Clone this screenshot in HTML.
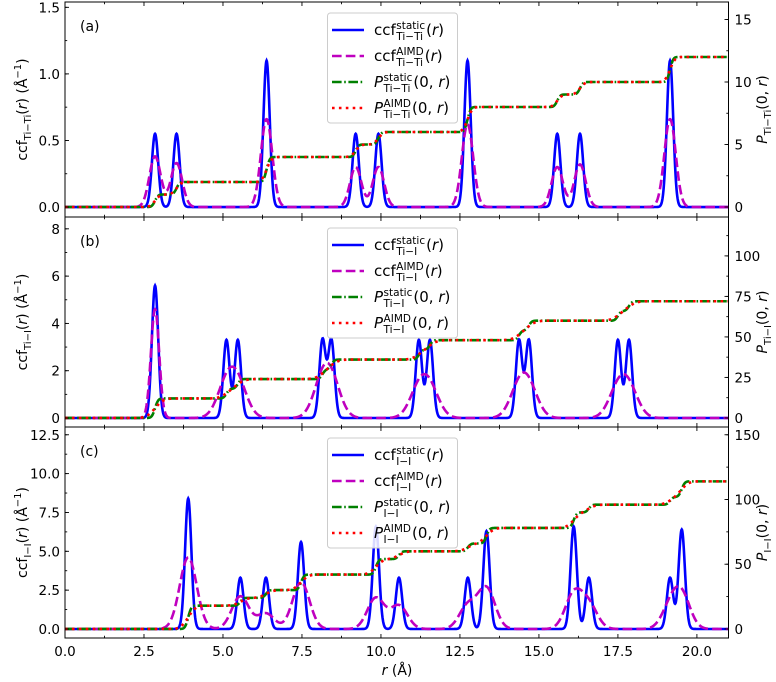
<!DOCTYPE html>
<html><head><meta charset="utf-8"><style>
html,body{margin:0;padding:0;background:#fff}
svg{display:block;font-family:"DejaVu Sans","Liberation Sans",sans-serif}
</style></head><body>
<svg id="chart" width="776" height="682" viewBox="0 0 776 682"></svg>
<script>
// ---------- data ----------
const xTicks = [0, 2.5, 5, 7.5, 10, 12.5, 15, 17.5, 20];
const xTickLabels = ["0.0","2.5","5.0","7.5","10.0","12.5","15.0","17.5","20.0"];

const aPeakPos = [2.85, 3.53, 6.38, 9.2, 9.92, 12.74, 15.58, 16.3, 19.15];
const aStaticH = [0.55, 0.55, 1.1, 0.55, 0.55, 1.1, 0.55, 0.55, 1.1];
const aAimdH   = [0.38, 0.33, 0.66, 0.30, 0.30, 0.62, 0.30, 0.32, 0.66];
const aPLevels = [1, 2, 4, 5, 6, 8, 9, 10, 12];
const aLeftTicks = [0, 0.5, 1.0, 1.5];
const aLeftLabels = ["0.0","0.5","1.0","1.5"];
const aRightTicks = [0, 5, 10, 15];

const bPeakPos = [2.85, 5.11, 5.47, 8.15, 8.43, 11.2, 11.55, 14.37, 14.68, 17.5, 17.85];
const bStaticH = [5.6, 3.3, 3.3, 3.3, 3.3, 3.3, 3.3, 3.3, 3.3, 3.3, 3.3];
const bAimdH   = [4.6, 1.3, 1.3, 1.3, 1.3, 1.1, 1.1, 1.1, 1.1, 1.1, 1.1];
const bPLevels = [12, 18, 24, 30, 36, 42, 48, 54, 60, 66, 72];
const bLeftTicks = [0, 2, 4, 6, 8];
const bLeftLabels = ["0","2","4","6","8"];
const bRightTicks = [0, 25, 50, 75, 100];

const cPeakPos = [3.9, 5.55, 6.36, 7.47, 9.84, 10.57, 12.75, 13.34, 16.1, 16.58, 19.15, 19.52];
const cStaticH = [8.4, 3.3, 3.3, 5.6, 6.6, 3.3, 3.3, 6.3, 6.6, 3.3, 3.3, 6.4];
const cAimdH   = [4.6, 2.1, 1.0, 3.0, 2.0, 1.5, 1.5, 2.6, 2.2, 1.5, 1.3, 2.1];
const cPLevels = [18, 24, 30, 42, 54, 60, 66, 78, 90, 96, 102, 114];
const cLeftTicks = [0, 2.5, 5, 7.5, 10, 12.5];
const cLeftLabels = ["0.0","2.5","5.0","7.5","10.0","12.5"];
const cRightTicks = [0, 50, 100, 150];

// ---------- layout ----------
const NS = "http://www.w3.org/2000/svg";
const svg = document.getElementById("chart");
const X0 = 65, X1 = 728.5, XMIN = 0, XMAX = 21;
const xs = v => X0 + (v - XMIN) / (XMAX - XMIN) * (X1 - X0);

function mk(tag, attrs, parent) {
  const e = document.createElementNS(NS, tag);
  for (const k in attrs) e.setAttribute(k, attrs[k]);
  (parent || svg).appendChild(e);
  return e;
}

const panels = [
  {key:"a", label:"(a)", top:2, bot:217, lmin:-0.075, lmax:1.54, rmin:-0.8, rmax:16.4,
   pos:aPeakPos, sh:aStaticH, ah:aAimdH, pl:aPLevels, ss:0.1, as:0.18,
   lt:aLeftTicks, ll:aLeftLabels, rt:aRightTicks, lminor:0.25, rminor:2.5, pair:"Ti\u2212Ti"},
  {key:"b", label:"(b)", top:217, bot:427, lmin:-0.38, lmax:8.5, rmin:-5.6, rmax:124,
   pos:bPeakPos, sh:bStaticH, ah:bAimdH, pl:bPLevels, ss:0.1, as:0.3,
   lt:bLeftTicks, ll:bLeftLabels, rt:bRightTicks, lminor:1, rminor:12.5, pair:"Ti\u2212I"},
  {key:"c", label:"(c)", top:427, bot:638, lmin:-0.58, lmax:13.0, rmin:-7, rmax:156,
   pos:cPeakPos, sh:cStaticH, ah:cAimdH, pl:cPLevels, ss:0.1, as:0.27,
   lt:cLeftTicks, ll:cLeftLabels, rt:cRightTicks, lminor:1.25, rminor:25, pair:"I\u2212I"}
];

function ccf(p, heights, sig, x, first) {
  let s = 0;
  for (let i = 0; i < p.pos.length; i++) {
    let sg = sig;
    if (first && i === 0 && p.key === "b") sg = 0.13;
    const d = x - p.pos[i];
    s += heights[i] * Math.exp(-d * d / (2 * sg * sg));
  }
  return s;
}
function erf(z){const t=1/(1+0.3275911*Math.abs(z));const y=1-(((((1.061405429*t-1.453152027)*t)+1.421413741)*t-0.284496736)*t+0.254829592)*t*Math.exp(-z*z);return z>=0?y:-y;}
function pcount(p, sig, x) {
  let s = 0, prev = 0;
  for (let i = 0; i < p.pos.length; i++) {
    const inc = p.pl[i] - prev; prev = p.pl[i];
    s += inc * 0.5 * (1 + erf((x - p.pos[i]) / (sig * Math.SQRT2)));
  }
  return s;
}

panels.forEach((p, pi) => {
  const g = mk("g", {});
  
  
  const ly = v => p.bot - (v - p.lmin) / (p.lmax - p.lmin) * (p.bot - p.top);
  const ry = v => p.bot - (v - p.rmin) / (p.rmax - p.rmin) * (p.bot - p.top);
  const clipId = "clip" + p.key;
  const cp = mk("clipPath", {id: clipId}, g);
  mk("rect", {x: X0, y: p.top, width: X1 - X0, height: p.bot - p.top}, cp);
  const plot = mk("g", {"clip-path": "url(#" + clipId + ")"}, g);

  function series(fn, yf) {
    let d = "";
    for (let x = XMIN; x <= XMAX + 1e-9; x += 0.01) {
      d += (d ? "L" : "M") + xs(x).toFixed(2) + "," + yf(fn(x)).toFixed(2);
    }
    return d;
  }
  const s1 = mk("path", {d: series(x => ccf(p, p.sh, p.ss, x, false), ly), fill:"none", stroke:"#0000ff", "stroke-width":2.6}, plot);
  
  
  const s2 = mk("path", {d: series(x => ccf(p, p.ah, p.as, x, true), ly), fill:"none", stroke:"#bf00bf", "stroke-width":2.6, "stroke-dasharray":"9.6,4.2"}, plot);
  
  
  const s3 = mk("path", {d: series(x => pcount(p, p.ss * 0.8, x), ry), fill:"none", stroke:"#008000", "stroke-width":2.6, "stroke-dasharray":"9.6,2.6,1.6,2.6"}, plot);
  
  
  const s4 = mk("path", {d: series(x => pcount(p, p.as * 0.7, x), ry), fill:"none", stroke:"#ff0000", "stroke-width":2.6, "stroke-dasharray":"2.6,4.3"}, plot);
  
  

  mk("rect", {x: X0, y: p.top, width: X1 - X0, height: p.bot - p.top, fill:"none", stroke:"#000", "stroke-width":1}, g);

  for (let v = 0; v <= XMAX + 1e-9; v += 1.25) {
    const major = Math.abs(v / 2.5 - Math.round(v / 2.5)) < 1e-6;
    const L = major ? 4 : 2.2;
    mk("line", {x1: xs(v), x2: xs(v), y1: p.bot, y2: p.bot - L, stroke:"#000", "stroke-width":0.9}, g);
    mk("line", {x1: xs(v), x2: xs(v), y1: p.top, y2: p.top + L, stroke:"#000", "stroke-width":0.9}, g);
  }
  if (pi === 2) {
    xTicks.forEach((v, i) => {
      const t = mk("text", {x: xs(v), y: p.bot + 18, "text-anchor":"middle", "font-size":13.5, fill:"#000"}, g);
      t.textContent = xTickLabels[i];
      
      
    });
  }
  for (let v = p.lt[0]; v <= p.lmax; v += p.lminor) {
    mk("line", {x1: X0, x2: X0 + 2.2, y1: ly(v), y2: ly(v), stroke:"#000", "stroke-width":0.9}, g);
  }
  p.lt.forEach((v, i) => {
    mk("line", {x1: X0, x2: X0 + 4, y1: ly(v), y2: ly(v), stroke:"#000", "stroke-width":0.9}, g);
    const t = mk("text", {x: X0 - 5, y: ly(v) + 5, "text-anchor":"end", "font-size":13.5, fill:"#000"}, g);
    t.textContent = p.ll[i];
    
    
  });
  for (let v = 0; v <= p.rmax; v += p.rminor) {
    mk("line", {x1: X1, x2: X1 - 2.2, y1: ry(v), y2: ry(v), stroke:"#000", "stroke-width":0.9}, g);
  }
  p.rt.forEach(v => {
    mk("line", {x1: X1, x2: X1 - 4, y1: ry(v), y2: ry(v), stroke:"#000", "stroke-width":0.9}, g);
    const t = mk("text", {x: X1 + 6, y: ry(v) + 5, "text-anchor":"start", "font-size":13.5, fill:"#000"}, g);
    t.textContent = String(v);
    
    
  });

  const pl = mk("text", {x: 80, y: p.top + 29, "font-size":14, fill:"#000"}, g);
  pl.textContent = p.label;
  
  

  const cy = (p.top + p.bot) / 2;
  const lt = mk("text", {x: 0, y: 0, transform: "translate(27," + cy + ") rotate(-90)", "text-anchor":"middle", "font-size":14, fill:"#000"}, g);
  lt.innerHTML = 'ccf<tspan font-size="10" dy="4">' + p.pair + '</tspan><tspan dy="-4">(</tspan><tspan font-style="italic">r</tspan>) (Å<tspan font-size="10" dy="-6">\u22121</tspan><tspan dy="6">)</tspan>';
  
  
  const rt = mk("text", {x: 0, y: 0, transform: "translate(767," + cy + ") rotate(-90)", "text-anchor":"middle", "font-size":14, fill:"#000"}, g);
  rt.innerHTML = '<tspan font-style="italic">P</tspan><tspan font-size="10" dy="4">' + p.pair + '</tspan><tspan dy="-4">(0, </tspan><tspan font-style="italic">r</tspan>)';
  
  

  // legend
  const lg = mk("g", {}, g);
  
  
  const ty = p.top + 11;
  mk("rect", {x: 327.5, y: ty, width: 130, height: 110, rx: 3, fill:"#fff", "fill-opacity":0.85, stroke:"#cccccc", "stroke-width":1}, lg);
  const rows = [
    {stroke:"#0000ff", dash:"", italic:false, sup:"static", tail:"(<tspan font-style='italic'>r</tspan>)"},
    {stroke:"#bf00bf", dash:"9.6,4.2", italic:false, sup:"AIMD", tail:"(<tspan font-style='italic'>r</tspan>)"},
    {stroke:"#008000", dash:"9.6,2.6,1.6,2.6", italic:true, sup:"static", tail:"(0, <tspan font-style='italic'>r</tspan>)"},
    {stroke:"#ff0000", dash:"2.6,4.3", italic:true, sup:"AIMD", tail:"(0, <tspan font-style='italic'>r</tspan>)"}
  ];
  rows.forEach((r, i) => {
    const yy = ty + 17 + i * 26;
    const e = mk("g", {}, lg);
    
    
    mk("line", {x1: 332, x2: 364, y1: yy, y2: yy, stroke: r.stroke, "stroke-width": 2.6, "stroke-dasharray": r.dash}, e);
    const base = mk("text", {x: 374, y: yy + 5, "font-size": 15, fill:"#000", "font-style": r.italic ? "italic" : "normal"}, e);
    base.textContent = r.italic ? "P" : "ccf";
    const bw = base.getComputedTextLength();
    const sx = 374 + bw + 0.5;
    const sup = mk("text", {x: sx, y: yy - 1, "font-size": 10.5, fill:"#000"}, e);
    sup.textContent = r.sup;
    const sub = mk("text", {x: sx, y: yy + 10, "font-size": 10.5, fill:"#000"}, e);
    sub.textContent = p.pair;
    const w = Math.max(sup.getComputedTextLength(), sub.getComputedTextLength());
    const tail = mk("text", {x: sx + w + 1, y: yy + 5, "font-size": 15, fill:"#000"}, e);
    tail.innerHTML = r.tail;
  });
});

const xt = mk("text", {x: 397, y: 675, "text-anchor":"middle", "font-size":14, fill:"#000"});
xt.innerHTML = '<tspan font-style="italic">r</tspan> (Å)';


</script>
</body></html>
